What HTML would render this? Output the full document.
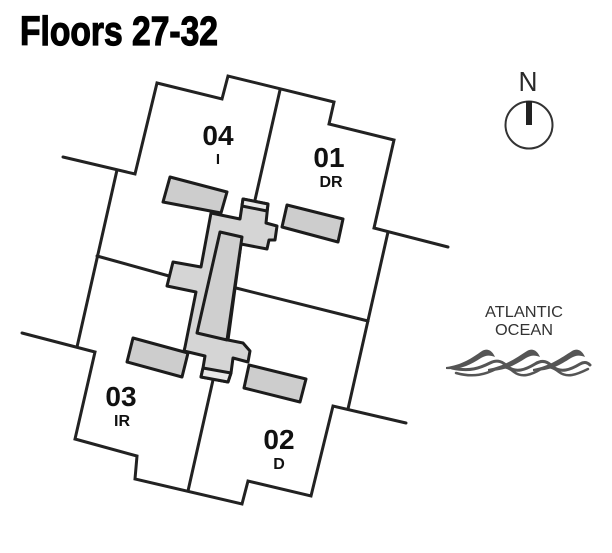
<!DOCTYPE html>
<html>
<head>
<meta charset="utf-8">
<style>
  html,body{margin:0;padding:0;background:#fff;}
  svg{display:block;}
  .lbl{font-family:"Liberation Sans",Arial,sans-serif;font-weight:bold;fill:#111;text-anchor:middle;}
</style>
</head>
<body>
<svg width="612" height="553" viewBox="0 0 612 553" xmlns="http://www.w3.org/2000/svg">
  <rect width="612" height="553" fill="#fff"/>

  <!-- Title -->
  <text x="20" y="45" font-family="Liberation Sans, Arial, sans-serif" font-weight="bold" font-size="41" fill="#000" stroke="#000" stroke-width="1.2" textLength="198" lengthAdjust="spacingAndGlyphs">Floors 27-32</text>

  <!-- Walls -->
  <g fill="none" stroke="#222" stroke-width="3" stroke-linejoin="miter" stroke-linecap="round">
    <path d="M63,157 L135,174 L157,83 L222,99 L228,76 L334,102 L329,124 L394,140 L374,228 L448,247"/>
    <path d="M388,232 L348,409"/>
    <path d="M406,423 L333,406 L311,496 L248,481 L242,504 L135,479 L137,456 L75,439 L95,352 L22,333"/>
    <path d="M117,170 L77,347"/>
    <!-- dividers -->
    <path d="M280,90 L255,200"/>
    <path d="M188,491 L213,380"/>
    <path d="M97,256 L169,276"/>
    <path d="M236,288 L368,321"/>
  </g>

  <!-- Core -->
  <g stroke="#1c1c1c" stroke-width="3" stroke-linejoin="round">
    <path fill="#d5d5d5" d="M211,213 L240,219 L243,199 L268,204 L266,223 L277,226 L275,240 L269,240 L267,249 L241,244 L228,340 L243,343 L250,351 L248,362 L233,358 L231,373 L228,382 L201,377 L203,368 L205,356 L184,351 L185,347 L196,292 L167,286 L173,262 L201,267 Z"/>
    <path fill="#e8e8e8" d="M243,199 L268,204 L267,211 L242,206 Z"/>
    <path fill="#e8e8e8" d="M203,368 L231,373 L228,382 L201,377 Z"/>
    <path fill="#cfcfcf" d="M220,232 L242,237 L227,340 L197,333 Z"/>
    <!-- side boxes -->
    <path fill="#cdcdcd" d="M170,177 L227,192 L221,213 L163,202 Z"/>
    <path fill="#cdcdcd" d="M287,205 L343,219 L338,242 L282,227 Z"/>
    <path fill="#cdcdcd" d="M133,338 L188,353 L182,377 L127,362 Z"/>
    <path fill="#cdcdcd" d="M249,365 L306,379 L300,402 L244,388 Z"/>
  </g>

  <!-- Unit labels -->
  <text class="lbl" x="218" y="145" font-size="28">04</text>
  <text class="lbl" x="218" y="164" font-size="15">I</text>
  <text class="lbl" x="329" y="167" font-size="28">01</text>
  <text class="lbl" x="331" y="187" font-size="16">DR</text>
  <text class="lbl" x="121" y="406" font-size="28">03</text>
  <text class="lbl" x="122" y="426" font-size="16">IR</text>
  <text class="lbl" x="279" y="449" font-size="28">02</text>
  <text class="lbl" x="279" y="469" font-size="16">D</text>

  <!-- North arrow -->
  <text x="528" y="91" font-family="Liberation Sans, Arial, sans-serif" font-size="28" fill="#2a2a2a" text-anchor="middle" textLength="19" lengthAdjust="spacingAndGlyphs">N</text>
  <circle cx="529" cy="125" r="23.5" fill="none" stroke="#333" stroke-width="2"/>
  <rect x="526" y="101" width="6" height="24" fill="#222"/>

  <!-- Atlantic Ocean -->
  <text x="524" y="317" font-family="Liberation Sans, Arial, sans-serif" font-size="16" fill="#333" text-anchor="middle" textLength="78" lengthAdjust="spacingAndGlyphs">ATLANTIC</text>
  <text x="524" y="335" font-family="Liberation Sans, Arial, sans-serif" font-size="16" fill="#333" text-anchor="middle" textLength="58" lengthAdjust="spacingAndGlyphs">OCEAN</text>

  <!-- Waves -->
  <g fill="#555">
    <path d="M446,367 C462,365 472,358 482,351 C487,348 492,350 495,357 C490,355 486,355 481,358 C470,365 460,370 446,369 Z"/>
    <path d="M488,369 C505,366 516,358 527,351 C532,348 537,350 540,357 C535,355 531,355 526,358 C515,365 505,371 488,371 Z"/>
    <path d="M533,369 C550,366 561,358 572,351 C577,348 582,350 585,357 C580,355 576,355 571,358 C560,365 550,371 533,371 Z"/>
  </g>
  <g fill="none" stroke="#555" stroke-linecap="round">
    <path stroke-width="3" d="M452,368 C470,372 480,368 490,363 C498,359 503,362 508,367 C516,373 525,370 535,364 C543,359 548,362 553,367 C561,373 570,370 580,364 C585,361 588,363 590,365"/>
    <path stroke-width="2.5" d="M456,373 C474,378 486,374 496,369 C504,365 509,368 514,372 C522,378 531,375 541,369 C549,365 554,368 559,372 C567,378 576,375 588,369"/>
  </g>
</svg>
</body>
</html>
